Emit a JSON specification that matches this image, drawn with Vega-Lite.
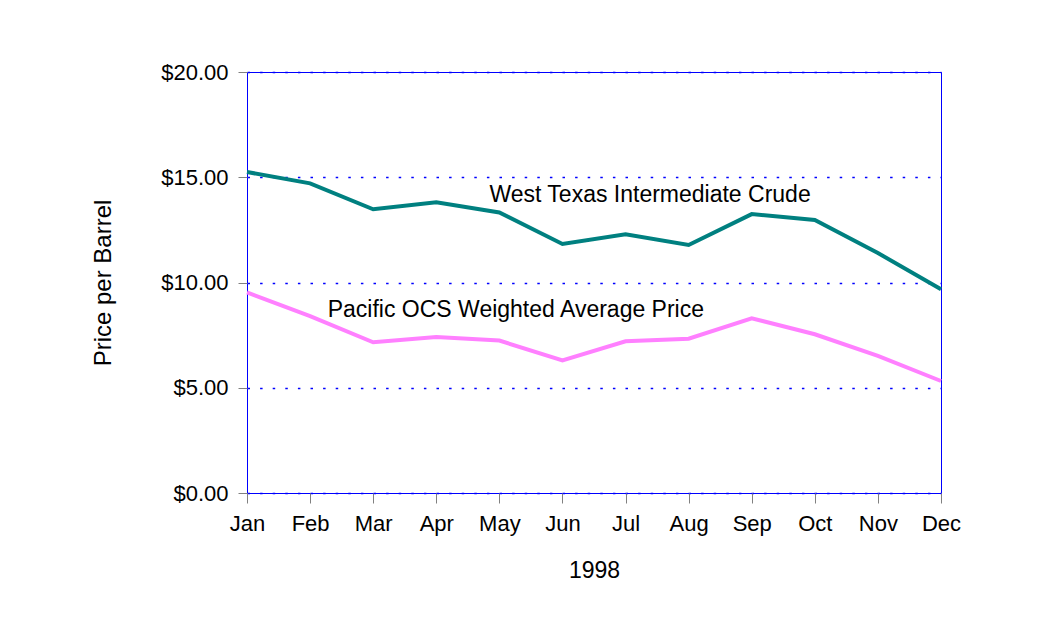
{
  "$schema": "https://vega.github.io/schema/vega-lite/v6.json",
  "width": 694,
  "height": 421,
  "autosize": {"type": "none"},
  "padding": {"left": 247, "top": 72, "right": 96, "bottom": 142},
  "background": "white",
  "config": {
    "view": {"stroke": "#0000ff", "strokeWidth": 1},
    "font": "Liberation Sans"
  },
  "data": {
    "values": [
      {"month": "Jan", "series": "West Texas Intermediate Crude", "price": 15.25},
      {"month": "Feb", "series": "West Texas Intermediate Crude", "price": 14.71},
      {"month": "Mar", "series": "West Texas Intermediate Crude", "price": 13.48},
      {"month": "Apr", "series": "West Texas Intermediate Crude", "price": 13.81},
      {"month": "May", "series": "West Texas Intermediate Crude", "price": 13.33},
      {"month": "Jun", "series": "West Texas Intermediate Crude", "price": 11.83},
      {"month": "Jul", "series": "West Texas Intermediate Crude", "price": 12.29},
      {"month": "Aug", "series": "West Texas Intermediate Crude", "price": 11.78},
      {"month": "Sep", "series": "West Texas Intermediate Crude", "price": 13.25},
      {"month": "Oct", "series": "West Texas Intermediate Crude", "price": 12.97},
      {"month": "Nov", "series": "West Texas Intermediate Crude", "price": 11.4},
      {"month": "Dec", "series": "West Texas Intermediate Crude", "price": 9.68},
      {"month": "Jan", "series": "Pacific OCS Weighted Average Price", "price": 9.53},
      {"month": "Feb", "series": "Pacific OCS Weighted Average Price", "price": 8.4},
      {"month": "Mar", "series": "Pacific OCS Weighted Average Price", "price": 7.16},
      {"month": "Apr", "series": "Pacific OCS Weighted Average Price", "price": 7.41},
      {"month": "May", "series": "Pacific OCS Weighted Average Price", "price": 7.24},
      {"month": "Jun", "series": "Pacific OCS Weighted Average Price", "price": 6.3},
      {"month": "Jul", "series": "Pacific OCS Weighted Average Price", "price": 7.21},
      {"month": "Aug", "series": "Pacific OCS Weighted Average Price", "price": 7.33},
      {"month": "Sep", "series": "Pacific OCS Weighted Average Price", "price": 8.3},
      {"month": "Oct", "series": "Pacific OCS Weighted Average Price", "price": 7.54},
      {"month": "Nov", "series": "Pacific OCS Weighted Average Price", "price": 6.51},
      {"month": "Dec", "series": "Pacific OCS Weighted Average Price", "price": 5.32}
    ]
  },
  "layer": [
    {
      "mark": {"type": "line", "strokeWidth": 4},
      "encoding": {
        "x": {
          "field": "month",
          "type": "ordinal",
          "sort": null,
          "scale": {"type": "point", "padding": 0},
          "axis": {
            "title": "1998",
            "labelAngle": 0,
            "labelFontSize": 22,
            "labelColor": "black",
            "labelPadding": 10,
            "tickSize": 10,
            "tickColor": "#808080",
            "domain": false,
            "grid": false,
            "titleFontSize": 23,
            "titleFontWeight": "normal",
            "titleColor": "black",
            "titlePadding": 25
          }
        },
        "y": {
          "field": "price",
          "type": "quantitative",
          "scale": {"domain": [0, 20]},
          "axis": {
            "title": "Price per Barrel",
            "values": [0, 5, 10, 15, 20],
            "format": "$.2f",
            "labelFontSize": 22,
            "labelColor": "black",
            "labelPadding": 10,
            "tickSize": 9,
            "tickColor": "#808080",
            "domain": false,
            "grid": true,
            "gridColor": "#0000ff",
            "gridDash": [2.5, 10.1],
            "gridWidth": 1.5,
            "gridOpacity": 1,
            "titleFontSize": 24,
            "titleFontWeight": "normal",
            "titleColor": "black",
            "titlePadding": 45
          }
        },
        "color": {
          "field": "series",
          "type": "nominal",
          "scale": {
            "domain": ["West Texas Intermediate Crude", "Pacific OCS Weighted Average Price"],
            "range": ["#008080", "#ff80ff"]
          },
          "legend": null
        }
      }
    },
    {
      "data": {"values": [{"label": "West Texas Intermediate Crude"}]},
      "mark": {"type": "text", "fontSize": 23, "align": "center", "baseline": "alphabetic", "dx": 24.5, "color": "black"},
      "encoding": {
        "x": {"datum": "Jul"},
        "y": {"datum": 13.84},
        "text": {"field": "label"}
      }
    },
    {
      "data": {"values": [{"label": "Pacific OCS Weighted Average Price"}]},
      "mark": {"type": "text", "fontSize": 23, "align": "center", "baseline": "alphabetic", "dx": 16.5, "color": "black"},
      "encoding": {
        "x": {"datum": "May"},
        "y": {"datum": 8.35},
        "text": {"field": "label"}
      }
    }
  ]
}
